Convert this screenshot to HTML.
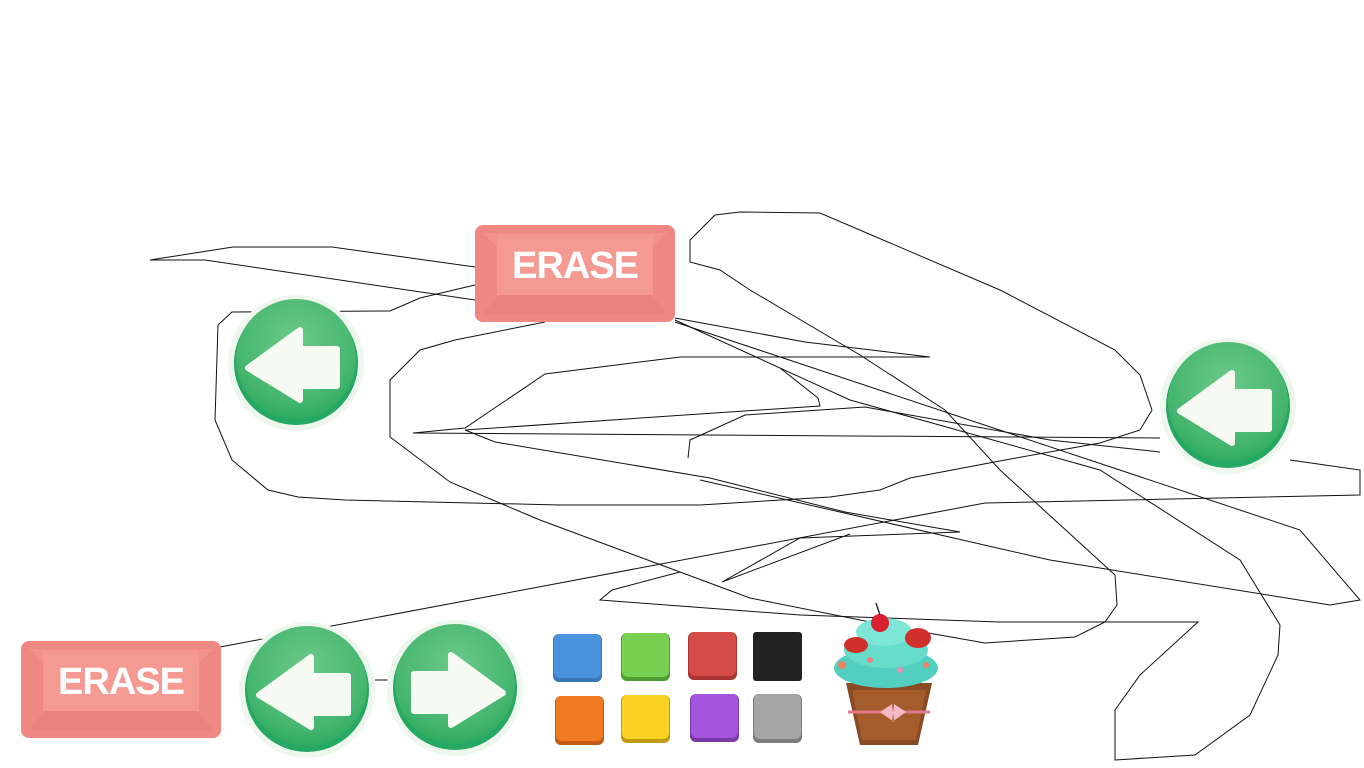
<!DOCTYPE html>
<html><head><meta charset="utf-8"><style>
html,body{margin:0;padding:0;background:#fff;width:1364px;height:768px;overflow:hidden}
svg{position:absolute;left:0;top:0}
</style></head><body>
<svg width="1364" height="768" viewBox="0 0 1364 768">
<defs>
<radialGradient id="gg" cx="0.5" cy="0.35" r="0.65">
<stop offset="0" stop-color="#6cc98a"/><stop offset="0.8" stop-color="#44b56e"/><stop offset="1" stop-color="#2faa60"/></radialGradient>
<g id="btnL">
<circle r="68" fill="#eef7ee"/>
<circle r="62" fill="#25a862"/>
<circle r="60" cy="-4" fill="url(#gg)"/>
<path d="M-48,5 L4,-33 L4,-14 L41,-14 L41,23 L4,23 L4,37 Z" fill="#f6faf3" stroke="#f6faf3" stroke-width="6" stroke-linejoin="round"/>
</g>
<g id="erase">
<rect x="0" y="0" width="200" height="97" rx="8" fill="#ef8882"/>
<polygon points="8,8 192,8 170,30 30,30" fill="#f2928b"/>
<polygon points="30,62 170,62 192,89 8,89" fill="#ea837e"/>
<rect x="22" y="10" width="156" height="60" fill="#f49a92"/>
<text x="100" y="53" text-anchor="middle" font-family="Liberation Sans, sans-serif" font-weight="bold" font-size="38" fill="#fff" letter-spacing="-1">ERASE</text>
</g>
</defs>
<g fill="none" stroke="#111" stroke-width="1">
<polyline points="150,260 233,247 332,247 475,267"/>
<polyline points="150,260 205,260 475,300"/>
<polyline points="475,285 420,298 390,311 232,312 218,325 215,420 232,460 268,490 298,497 345,500 560,505 700,505 830,497 880,490 910,478 1005,460 1100,443 1140,430 1152,410 1140,375 1115,350 1000,290 820,213 740,212 715,215 690,240 690,262 720,270 750,290 860,355 945,410 1000,470 1115,575 1117,605 1105,622 1075,637 985,643 900,628 750,598 540,520 450,482 390,437 390,380 420,350 455,340 545,322"/>
<polyline points="675,318 805,342 930,357 680,357 545,374 465,428 413,433 1160,438"/>
<polyline points="465,430 670,416 820,406 818,398 780,368"/>
<polyline points="465,430 495,442 710,478 845,512 960,532 800,538 722,582 850,534"/>
<polyline points="688,458 690,440 745,415 865,407 1050,440 1160,452"/>
<polyline points="1290,460 1360,470 1360,495 985,503 220,647"/>
<polyline points="675,320 850,400 1100,470 1240,560 1280,625 1278,655 1250,715 1195,755 1115,760 1115,710 1140,675 1198,622 1000,622 800,615 600,600 612,590 680,572"/>
<polyline points="675,322 1300,530 1360,600 1330,605 1050,560 700,480"/>
<polyline points="375,680 388,680"/>
</g>
<use href="#erase" x="475" y="225"/>
<use href="#erase" x="21" y="641"/>
<use href="#btnL" x="296" y="363"/>
<use href="#btnL" x="1228" y="406"/>
<use href="#btnL" x="307" y="690"/>
<use href="#btnL" transform="translate(455,688) scale(-1,1)"/>
<g>
<rect x="553" y="634" width="49" height="48" rx="6" fill="#3a78b8"/><rect x="554" y="634" width="47" height="44" rx="6" fill="#4a92dc"/>
<rect x="621" y="633" width="49" height="48" rx="6" fill="#4f9e35"/><rect x="622" y="633" width="47" height="44" rx="6" fill="#78d050"/>
<rect x="688" y="632" width="49" height="48" rx="6" fill="#a83430"/><rect x="689" y="632" width="47" height="44" rx="6" fill="#d44b47"/>
<rect x="753" y="632" width="49" height="49" rx="3" fill="#222"/>
<rect x="555" y="696" width="49" height="49" rx="6" fill="#c05a16"/><rect x="556" y="696" width="47" height="45" rx="6" fill="#f27a22"/>
<rect x="621" y="695" width="49" height="48" rx="6" fill="#c09a10"/><rect x="622" y="695" width="47" height="44" rx="6" fill="#fcd222"/>
<rect x="690" y="694" width="49" height="48" rx="6" fill="#7a38a8"/><rect x="691" y="694" width="47" height="44" rx="6" fill="#a454de"/>
<rect x="753" y="694" width="49" height="49" rx="6" fill="#7d7d7d"/><rect x="754" y="694" width="47" height="45" rx="6" fill="#a5a5a5"/>
</g>
<g>
<path d="M846,683 L932,683 L918,745 L860,745 Z" fill="#8a4a24"/>
<path d="M852,690 L926,690 L916,740 L862,740 Z" fill="#a45c2c"/>
<path d="M848,712 L930,712" stroke="#e07a8a" stroke-width="3"/>
<path d="M880,712 L892,704 L894,722 Z M906,712 L894,704 L892,722 Z" fill="#f6b8c4"/>
<ellipse cx="886" cy="668" rx="52" ry="20" fill="#52cfc0"/>
<ellipse cx="886" cy="650" rx="42" ry="18" fill="#66dccb"/>
<ellipse cx="884" cy="632" rx="28" ry="14" fill="#7ee6d6"/>
<ellipse cx="856" cy="645" rx="12" ry="8" fill="#d0302a"/>
<ellipse cx="918" cy="638" rx="13" ry="10" fill="#d0302a"/>
<circle cx="880" cy="623" r="9" fill="#d92030"/>
<path d="M880,615 L876,603" stroke="#333" stroke-width="1.5"/>
<circle cx="842" cy="665" r="4" fill="#f08060"/><circle cx="870" cy="660" r="3" fill="#f08080"/><circle cx="900" cy="670" r="3" fill="#f090b0"/><circle cx="926" cy="665" r="3" fill="#f08060"/>
</g>
</svg>
</body></html>
